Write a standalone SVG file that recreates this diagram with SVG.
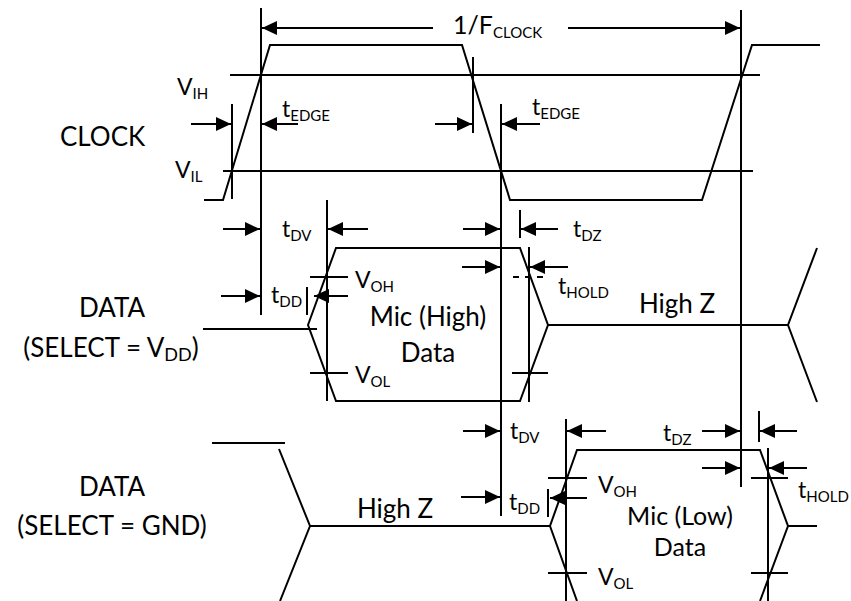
<svg xmlns="http://www.w3.org/2000/svg" width="851" height="601" viewBox="0 0 851 601">
<style>
.w{fill:none;stroke:#000;stroke-width:2}
.a{fill:none;stroke:#000;stroke-width:2;marker-end:url(#ah)}
.d{stroke-dasharray:6 6}
text{font-family:Lato,"Liberation Sans",sans-serif;fill:#000}
.L{font-size:26px}
.m{font-size:23px}
.s{font-size:15px}
.c{text-anchor:middle;font-size:26px}
.c2{text-anchor:middle;font-size:25px}
</style>
<defs>
<marker id="ah" markerUnits="userSpaceOnUse" markerWidth="16" markerHeight="14" refX="15" refY="7" orient="auto">
<path d="M0,0 L15,7 L0,14 z" fill="#000"/>
</marker>
</defs>
<rect width="851" height="601" fill="#fff"/>
<g id="clock">
<polyline class="w" points="204,200 223,200 270,45 462,45 510,200 702,200 752,45 820,45"/>
<line class="w" x1="230" y1="75" x2="760" y2="75"/>
<line class="w" x1="223" y1="171" x2="753" y2="171"/>
<text class="L" x="60" y="146">CLOCK</text>
<text class="m" x="177" y="95">V<tspan class="s" dy="4">IH</tspan></text>
<text class="m" x="175" y="178">V<tspan class="s" dy="4">IL</tspan></text>
</g>
<g id="data-vdd">
<line class="w" x1="203" y1="329" x2="317" y2="329"/>
<polygon class="w" points="308,325 336,248 520,248 548,325 520,401 336,401"/>
<line class="w" x1="548" y1="325" x2="788" y2="325"/>
<polyline class="w" points="817,248 788,325 817,402"/>
<line class="w" x1="310" y1="277" x2="348" y2="277"/>
<line class="w" x1="310" y1="373" x2="348" y2="373"/>
<line class="w d" x1="513" y1="277" x2="548" y2="277"/>
<line class="w" x1="512" y1="373" x2="548" y2="373"/>
<text class="L" x="112" y="317" text-anchor="middle">DATA</text>
<text class="L" x="111" y="357" text-anchor="middle">(SELECT = V<tspan font-size="18px" dy="4">DD</tspan><tspan dy="-4">)</tspan></text>
<text class="m" x="355" y="288">V<tspan class="s" dy="4">OH</tspan></text>
<text class="m" x="355" y="383">V<tspan class="s" dy="4">OL</tspan></text>
<text class="c" x="428" y="326">Mic (High)</text>
<text class="c" x="428" y="362">Data</text>
<text class="c" x="677" y="313">High Z</text>
</g>
<g id="data-gnd">
<line class="w" x1="212" y1="443" x2="285" y2="443"/>
<polyline class="w" points="279,449 310,526 280,601"/>
<line class="w" x1="310" y1="526" x2="550" y2="526"/>
<polyline class="w" points="577,601 550,526 577,450 760,450 788,526 760,601"/>
<line class="w" x1="788" y1="526" x2="817" y2="526"/>
<line class="w" x1="548" y1="478" x2="587" y2="478"/>
<line class="w" x1="548" y1="573" x2="587" y2="573"/>
<line class="w" x1="751" y1="478" x2="788" y2="478"/>
<line class="w" x1="751" y1="573" x2="788" y2="573"/>
<text class="L" x="112" y="496" text-anchor="middle">DATA</text>
<text class="L" x="112" y="535" text-anchor="middle">(SELECT = GND)</text>
<text class="c" x="395" y="518">High Z</text>
<text class="m" x="598" y="493">V<tspan class="s" dy="4">OH</tspan></text>
<text class="m" x="598" y="585">V<tspan class="s" dy="4">OL</tspan></text>
<text class="c2" x="680" y="525">Mic (Low)</text>
<text class="c2" x="680" y="556">Data</text>
</g>
<g id="connectors">
<line class="w" x1="261" y1="8" x2="261" y2="315"/>
<line class="w" x1="741" y1="10" x2="741" y2="487"/>
<line class="w" x1="232" y1="104" x2="232" y2="199"/>
<line class="w" x1="473" y1="57" x2="473" y2="133"/>
<line class="w" x1="501" y1="104" x2="501" y2="516"/>
<line class="w" x1="327" y1="200" x2="327" y2="401"/>
<line class="w" x1="529" y1="247" x2="529" y2="402"/>
<line class="w" x1="520" y1="210" x2="520" y2="238"/>
<line class="w" x1="307" y1="287" x2="307" y2="315"/>
<line class="w" x1="548" y1="489" x2="548" y2="517"/>
<line class="w" x1="566" y1="419" x2="566" y2="601"/>
<line class="w" x1="768" y1="448" x2="768" y2="601"/>
<line class="w" x1="759" y1="411" x2="759" y2="442"/>
<line class="a" x1="433" y1="28" x2="262" y2="28"/>
<line class="a" x1="568" y1="28" x2="740" y2="28"/>
<line class="a" x1="191" y1="124" x2="231" y2="124"/>
<line class="a" x1="298" y1="124" x2="262" y2="124"/>
<line class="a" x1="435" y1="124" x2="472" y2="124"/>
<line class="a" x1="540" y1="124" x2="502" y2="124"/>
<line class="a" x1="223" y1="229" x2="260" y2="229"/>
<line class="a" x1="368" y1="229" x2="328" y2="229"/>
<line class="a" x1="221" y1="296" x2="260" y2="296"/>
<line class="a" x1="348" y1="296" x2="314" y2="296"/>
<line class="a" x1="463" y1="229" x2="500" y2="229"/>
<line class="a" x1="558" y1="229" x2="521" y2="229"/>
<line class="a" x1="462" y1="267" x2="500" y2="267"/>
<line class="a" x1="568" y1="267" x2="530" y2="267"/>
<line class="a" x1="463" y1="431" x2="500" y2="431"/>
<line class="a" x1="461" y1="497" x2="500" y2="497"/>
<line class="a" x1="606" y1="431" x2="567" y2="431"/>
<line class="a" x1="587" y1="498" x2="550" y2="498"/>
<line class="a" x1="702" y1="431" x2="740" y2="431"/>
<line class="a" x1="797" y1="431" x2="760" y2="431"/>
<line class="a" x1="702" y1="468" x2="740" y2="468"/>
<line class="a" x1="807" y1="468" x2="769" y2="468"/>
<text x="453" y="34" font-size="25px">1/F<tspan font-size="15px" dy="4">CLOCK</tspan></text>
<text class="m" x="282" y="117">t<tspan class="s" dy="4">EDGE</tspan></text>
<text class="m" x="532" y="115">t<tspan class="s" dy="4">EDGE</tspan></text>
<text class="m" x="282" y="237">t<tspan class="s" dy="4">DV</tspan></text>
<text class="m" x="271" y="303">t<tspan class="s" dy="4">DD</tspan></text>
<text class="m" x="573" y="237">t<tspan class="s" dy="4">DZ</tspan></text>
<text class="m" x="558" y="294">t<tspan class="s" dy="4">HOLD</tspan></text>
<text class="m" x="510" y="439">t<tspan class="s" dy="4">DV</tspan></text>
<text class="m" x="509" y="510">t<tspan class="s" dy="4">DD</tspan></text>
<text class="m" x="663" y="441">t<tspan class="s" dy="4">DZ</tspan></text>
<text class="m" x="798" y="498">t<tspan class="s" dy="4">HOLD</tspan></text>
</g>
</svg>
